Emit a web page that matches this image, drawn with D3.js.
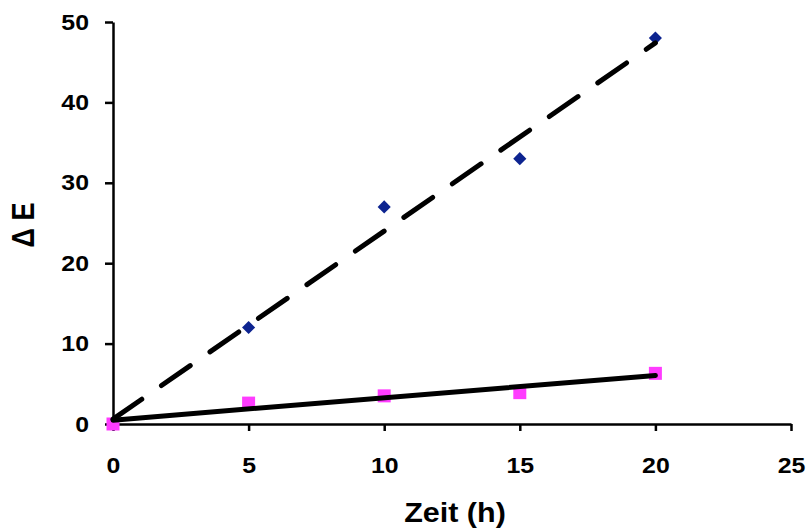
<!DOCTYPE html>
<html>
<head>
<meta charset="utf-8">
<script src="https://cdn.jsdelivr.net/npm/d3@7"></script>
<style>
  body { margin: 0; background: #fff; }
  svg text { font-family: "Liberation Sans", Arial, sans-serif; font-weight: bold; fill: #000; }
  .axis path, .axis line { stroke: #000; stroke-width: 2.5; }
</style>
</head>
<body>
<script>
const hours = [0, 5, 10, 15, 20];
const seriesBlue = [0, 12, 27, 33, 48];
const seriesPink = [0, 2.6, 3.5, 3.9, 6.3];
const xTicks = [0, 5, 10, 15, 20, 25];
const yTicks = [0, 10, 20, 30, 40, 50];

const width = 809, height = 528;
const margin = {left: 113, right: 18, top: 22, bottom: 104};
const stretch = 1.13; // picture is a bit wider than tall

// least squares trend line, as the spreadsheet does it
function trend(xs, ys) {
  const mx = d3.mean(xs), my = d3.mean(ys);
  const sxy = d3.sum(xs, (x, i) => (x - mx) * (ys[i] - my));
  const sxx = d3.sum(xs, (x) => (x - mx) * (x - mx));
  const slope = sxy / sxx;
  return {slope: slope, intercept: my - slope * mx};
}

const xScale = d3.scaleLinear()
  .domain([0, 25])
  .range([margin.left, width - margin.right]);

const yScale = d3.scaleLinear()
  .domain([0, 50])
  .range([height - margin.bottom, margin.top]);

const svg = d3.select("body")
  .append("svg")
  .attr("width", width)
  .attr("height", height);

const xAxis = svg.append("g")
  .attr("class", "axis")
  .attr("transform", "translate(0," + yScale(0) + ")")
  .call(d3.axisBottom(xScale).tickValues(xTicks).tickSize(7).tickSizeOuter(0));

const yAxis = svg.append("g")
  .attr("class", "axis")
  .attr("transform", "translate(" + xScale(0) + ",0)")
  .call(d3.axisLeft(yScale).tickValues(yTicks).tickSize(8).tickSizeOuter(0).tickPadding(16));

svg.selectAll(".axis text")
  .style("font-size", "22px")
  .style("font-family", null);

xAxis.selectAll(".tick text")
  .attr("dy", "0")
  .attr("y", 49)
  .attr("transform", "scale(" + stretch + ",1)");

yAxis.selectAll(".tick text")
  .attr("transform", "translate(-24,0) scale(" + stretch + ",1) translate(24,0)");

// markers
svg.append("g")
  .selectAll("path")
  .data(hours)
  .join("path")
  .attr("transform", (d, i) => "translate(" + xScale(d) + "," + yScale(seriesBlue[i]) + ")")
  .attr("d", d3.symbol(d3.symbolDiamond2, 110))
  .attr("fill", "#0d2490");

svg.append("g")
  .selectAll("rect")
  .data(hours)
  .join("rect")
  .attr("x", (d) => xScale(d) - 6.5)
  .attr("y", (d, i) => yScale(seriesPink[i]) - 6.5)
  .attr("width", 13)
  .attr("height", 13)
  .attr("fill", "#ff3cff");

// trend lines
const tb = trend(hours, seriesBlue);
const tp = trend(hours, seriesPink);
const x0 = d3.min(hours), x1 = d3.max(hours);

svg.append("line")
  .attr("x1", xScale(x0)).attr("y1", yScale(tb.intercept + tb.slope * x0))
  .attr("x2", xScale(x1)).attr("y2", yScale(tb.intercept + tb.slope * x1))
  .attr("stroke", "#000")
  .attr("stroke-width", 5)
  .attr("stroke-linecap", "round")
  .attr("stroke-dasharray", "35,24");

svg.append("line")
  .attr("x1", xScale(x0)).attr("y1", yScale(tp.intercept + tp.slope * x0))
  .attr("x2", xScale(x1)).attr("y2", yScale(tp.intercept + tp.slope * x1))
  .attr("stroke", "#000")
  .attr("stroke-width", 5)
  .attr("stroke-linecap", "round");

// axis titles
svg.append("text")
  .attr("transform", "translate(455,522) scale(" + stretch + ",1)")
  .style("text-anchor", "middle")
  .style("font-size", "27px")
  .text("Zeit (h)");

svg.append("text")
  .attr("transform", "translate(34,225) scale(" + stretch + ",1) rotate(-90)")
  .style("text-anchor", "middle")
  .style("font-size", "27px")
  .text("Δ E");
</script>
</body>
</html>
